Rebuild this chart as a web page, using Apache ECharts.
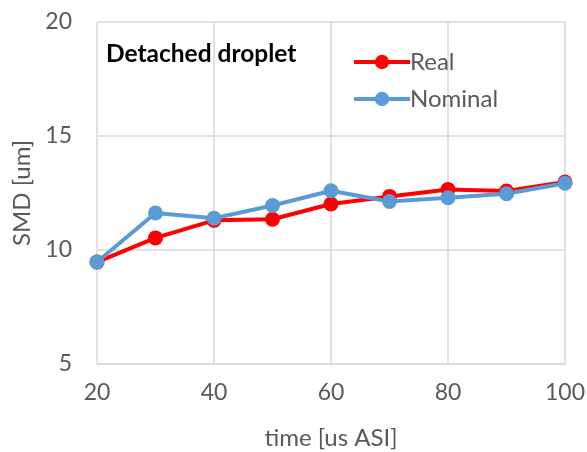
<!DOCTYPE html>
<html><head><meta charset="utf-8">
<script src="https://cdn.jsdelivr.net/npm/echarts@6/dist/echarts.min.js"></script>
<style>html,body{margin:0;padding:0;background:#fff}#c{width:587px;height:452px}</style>
</head><body><div id="c"></div>
<script>
const times = [20, 30, 40, 50, 60, 70, 80, 90, 100];
const realValues = [9.47, 10.53, 11.3, 11.35, 12.02, 12.35, 12.65, 12.59, 12.98];
const nominalValues = [9.47, 11.62, 11.39, 11.95, 12.6, 12.13, 12.29, 12.47, 12.93];
const seriesNames = ['Real', 'Nominal'];
const chartTitle = 'Detached droplet';
const xName = 'time [us ASI]';
const yName = 'SMD [um]';

const font = 'Lato, "Open Sans", sans-serif';
const chart = echarts.init(document.getElementById('c'));
const pair = (xs, ys) => xs.map((x, i) => [x, ys[i]]);
chart.setOption({
  animation: false,
  title: { text: chartTitle, left: 101, top: 37,
    textStyle: { fontFamily: font, fontWeight: 'bold', fontSize: 24.5, color: '#000' } },
  legend: {
    orient: 'vertical', left: 347, top: 45, itemGap: 13,
    itemWidth: 56, itemHeight: 18,
    lineStyle: { width: 4 },
    textStyle: { fontFamily: font, fontSize: 24, color: '#595959', padding: [0,0,0,-5] },
    data: seriesNames
  },
  grid: { left: 97, right: 22, top: 22, bottom: 88, outerBoundsMode: 'none', containLabel: false },
  xAxis: {
    type: 'value', min: 20, max: 100, interval: 20,
    name: xName, nameLocation: 'middle', nameGap: 62,
    nameTextStyle: { fontFamily: font, fontSize: 24, color: '#595959' },
    axisLabel: { fontFamily: font, fontSize: 23, color: '#595959', margin: 17 },
    axisLine: { lineStyle: { color: '#d9d9d9', width: 1.5 } },
    axisTick: { show: false },
    splitLine: { show: true, lineStyle: { color: '#d9d9d9', width: 1.5 } }
  },
  yAxis: {
    type: 'value', min: 5, max: 20, interval: 5,
    name: yName, nameLocation: 'middle', nameGap: 60,
    nameTextStyle: { fontFamily: font, fontSize: 24, color: '#595959' },
    axisLabel: { fontFamily: font, fontSize: 23, color: '#595959', margin: 25 },
    axisLine: { show: false },
    axisTick: { show: false },
    splitLine: { show: true, lineStyle: { color: '#d9d9d9', width: 1.5 } }
  },
  series: [
    { name: seriesNames[0], type: 'line', data: pair(times, realValues),
      symbol: 'circle', symbolSize: 15, color: '#ff0000',
      lineStyle: { width: 4, color: '#ff0000' }, itemStyle: { color: '#ff0000' } },
    { name: seriesNames[1], type: 'line', data: pair(times, nominalValues),
      symbol: 'circle', symbolSize: 15, color: '#5b9bd5',
      lineStyle: { width: 4, color: '#5b9bd5' }, itemStyle: { color: '#5b9bd5' } }
  ]
});
</script></body></html>
